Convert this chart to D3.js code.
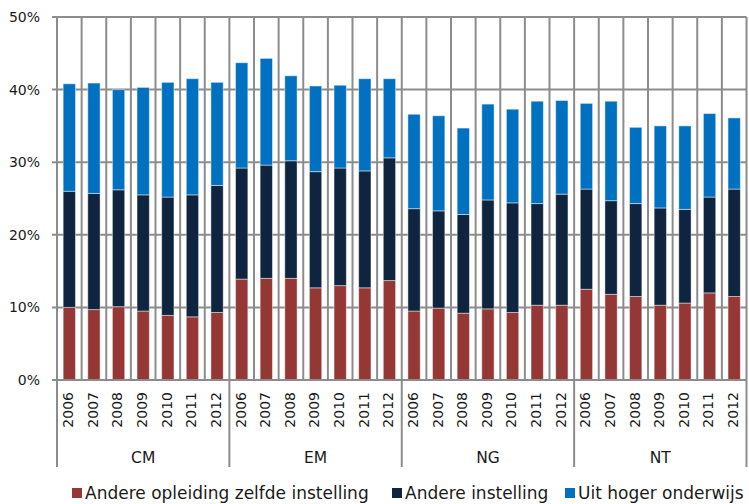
<!DOCTYPE html>
<html>
<head>
<meta charset="utf-8">
<script src="https://cdn.jsdelivr.net/npm/d3@7"></script>
<style>
  html, body { margin: 0; padding: 0; background: #fff; }
  svg { display: block; }
</style>
</head>
<body>
<svg id="chart" width="749" height="504"></svg>
<script>
const groups = ["CM", "EM", "NG", "NT"];
const years = ["2006", "2007", "2008", "2009", "2010", "2011", "2012"];
const seriesNames = ["Andere opleiding zelfde instelling", "Andere instelling", "Uit hoger onderwijs"];
const seriesColors = ["#953735", "#0f243e", "#0070c0"];

// values in %, order: CM 2006-2012, EM 2006-2012, NG 2006-2012, NT 2006-2012
const andereOpleiding = [
  10.0, 9.7, 10.1, 9.5, 8.9, 8.7, 9.3,
  13.9, 14.0, 14.0, 12.7, 13.0, 12.7, 13.7,
  9.5, 9.9, 9.2, 9.8, 9.3, 10.3, 10.3,
  12.5, 11.8, 11.5, 10.3, 10.6, 12.0, 11.5
];
const andereInstelling = [
  16.0, 16.0, 16.1, 16.0, 16.3, 16.8, 17.5,
  15.3, 15.6, 16.2, 16.0, 16.2, 16.1, 16.9,
  14.1, 13.4, 13.6, 15.0, 15.1, 14.0, 15.3,
  13.8, 12.9, 12.8, 13.4, 12.9, 13.2, 14.8
];
const uitHogerOnderwijs = [
  14.8, 15.2, 13.8, 14.8, 15.8, 16.0, 14.2,
  14.5, 14.7, 11.7, 11.8, 11.4, 12.7, 10.9,
  13.0, 13.1, 11.9, 13.2, 12.9, 14.1, 12.9,
  11.8, 13.7, 10.5, 11.3, 11.5, 11.5, 9.8
];
const yTicks = [0, 10, 20, 30, 40, 50];

(function () {
// build table
const rows = [];
groups.forEach((g, gi) => {
  years.forEach((yr, yi) => {
    const i = gi * years.length + yi;
    rows.push({ key: g + "-" + yr, group: g, year: yr,
      s0: andereOpleiding[i], s1: andereInstelling[i], s2: uitHogerOnderwijs[i] });
  });
});

const svg = d3.select("#chart");
const mLeft = 57, mRight = 746.5, mTop = 17, mBottom = 380;
const gridColor = "#8c8c8c";

const x = d3.scaleBand().domain(rows.map(d => d.key)).range([mLeft, mRight])
  .paddingInner(0.5).paddingOuter(0.25);
const y = d3.scaleLinear().domain([0, 50]).range([mBottom, mTop]);
const step = x.step();

// horizontal gridlines
svg.append("g").selectAll("line").data(yTicks).join("line")
  .attr("x1", mLeft - 5).attr("x2", mRight)
  .attr("y1", d => y(d)).attr("y2", d => y(d))
  .attr("stroke", gridColor).attr("stroke-width", 2);

// vertical gridlines at category boundaries
const bounds = d3.range(rows.length + 1).map(i => mLeft + i * step);
svg.append("g").selectAll("line").data(bounds).join("line")
  .attr("x1", d => d).attr("x2", d => d)
  .attr("y1", mTop).attr("y2", mBottom)
  .attr("stroke", gridColor).attr("stroke-width", 2);

// y labels
svg.append("g").selectAll("text").data(yTicks).join("text")
  .attr("x", 40).attr("y", d => y(d)).attr("dy", "0.35em")
  .attr("text-anchor", "end")
  .style("font-family", "'DejaVu Sans', sans-serif").style("font-size", "14px")
  .attr("fill", "#1a1a1a")
  .text(d => d + "%");

// stacked bars
const stack = d3.stack().keys(["s0", "s1", "s2"]);
const stacked = stack(rows);
svg.append("g").selectAll("g").data(stacked).join("g")
  .attr("fill", (d, i) => seriesColors[i])
  .selectAll("rect").data(d => d).join("rect")
  .attr("x", d => x(d.data.key))
  .attr("width", x.bandwidth())
  .attr("y", d => y(d[1]))
  .attr("height", d => y(d[0]) - y(d[1]))
  .attr("stroke", "rgba(255,255,255,0.45)").attr("stroke-width", 1);

// bottom axis line
svg.append("line").attr("x1", mLeft).attr("x2", mRight)
  .attr("y1", mBottom).attr("y2", mBottom)
  .attr("stroke", gridColor).attr("stroke-width", 2);

// year labels
svg.append("g").selectAll("text").data(rows).join("text")
  .attr("transform", d => `translate(${x(d.key) + x.bandwidth() / 2 - 1},392) rotate(-90)`)
  .attr("dy", "0.35em")
  .attr("text-anchor", "end")
  .style("font-family", "'DejaVu Sans', sans-serif")
  .style("font-size", "14px")
  .attr("fill", "#1a1a1a")
  .text(d => d.year);

// group separators
const groupBounds = d3.range(groups.length + 1).map(i => mLeft + i * years.length * step);
svg.append("g").selectAll("line").data(groupBounds).join("line")
  .attr("x1", d => d).attr("x2", d => d)
  .attr("y1", mBottom).attr("y2", 467)
  .attr("stroke", gridColor).attr("stroke-width", 2);

// group labels
svg.append("g").selectAll("text").data(groups).join("text")
  .attr("x", (d, i) => (groupBounds[i] + groupBounds[i + 1]) / 2)
  .attr("y", 463)
  .attr("text-anchor", "middle")
  .style("font-family", "'DejaVu Sans', sans-serif").style("font-size", "15.5px")
  .attr("fill", "#1a1a1a")
  .text(d => d);

// legend
const legendX = [85, 405, 578];
const leg = svg.append("g").selectAll("g").data(seriesNames).join("g")
  .attr("transform", (d, i) => `translate(${legendX[i]},0)`);
leg.append("rect").attr("x", -13).attr("y", 488).attr("width", 10).attr("height", 10)
  .attr("fill", (d, i) => seriesColors[i]);
leg.append("text").attr("x", 0).attr("y", 499)
  .style("font-family", "'DejaVu Sans', sans-serif").style("font-size", "17px")
  .attr("fill", "#1a1a1a")
  .text(d => d);
})();
</script>
</body>
</html>
